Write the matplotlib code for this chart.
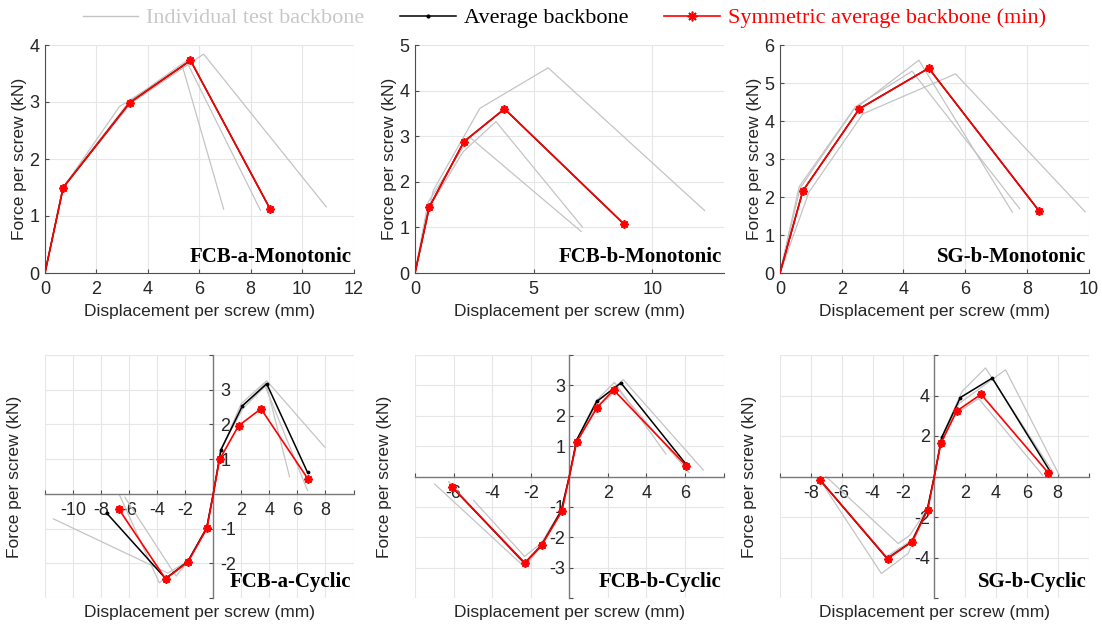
import matplotlib.pyplot as plt
from matplotlib.lines import Line2D

plt.rcParams['font.family'] = 'Liberation Sans'

# ---- FCB-a monotonic ----
fcba_mono_tests_x = [[0, 0.68, 2.9, 5.35, 6.95],
                     [0, 0.72, 3.3, 5.5, 8.38],
                     [0, 0.70, 3.35, 6.17, 10.94]]
fcba_mono_tests_y = [[0, 1.48, 2.92, 3.62, 1.12],
                     [0, 1.52, 3.02, 3.72, 1.10],
                     [0, 1.50, 2.98, 3.84, 1.16]]
fcba_mono_avg_x = [0, 0.71, 3.30, 5.66, 8.76]
fcba_mono_avg_y = [0, 1.50, 2.99, 3.73, 1.12]
fcba_mono_sym_x = [0, 0.71, 3.30, 5.66, 8.76]
fcba_mono_sym_y = [0, 1.50, 2.99, 3.73, 1.12]

# ---- FCB-b monotonic ----
fcbb_mono_tests_x = [[0, 0.77, 2.73, 5.61, 12.2],
                     [0, 0.55, 2.3, 7.0],
                     [0, 0.50, 2.03, 3.41, 7.05]]
fcbb_mono_tests_y = [[0, 1.81, 3.61, 4.50, 1.37],
                     [0, 1.55, 2.98, 0.91],
                     [0, 1.35, 2.66, 3.32, 1.01]]
fcbb_mono_avg_x = [0, 0.60, 2.06, 3.77, 8.79]
fcbb_mono_avg_y = [0, 1.445, 2.88, 3.60, 1.08]
fcbb_mono_sym_x = [0, 0.60, 2.06, 3.77, 8.79]
fcbb_mono_sym_y = [0, 1.445, 2.88, 3.60, 1.08]

# ---- SG-b monotonic ----
sgb_mono_tests_x = [[0, 0.65, 2.38, 4.50, 7.53],
                    [0, 0.62, 2.45, 4.28, 7.77],
                    [0, 0.94, 2.69, 5.69, 9.89]]
sgb_mono_tests_y = [[0, 2.23, 4.29, 5.60, 1.60],
                    [0, 2.27, 4.38, 5.31, 1.69],
                    [0, 2.13, 4.19, 5.24, 1.61]]
sgb_mono_avg_x = [0, 0.74, 2.57, 4.82, 8.40]
sgb_mono_avg_y = [0, 2.16, 4.32, 5.39, 1.63]
sgb_mono_sym_x = [0, 0.74, 2.57, 4.82, 8.40]
sgb_mono_sym_y = [0, 2.16, 4.32, 5.39, 1.63]

# ---- FCB-a cyclic ----
fcba_cyc_tests_x = [[-11.4, -3.25, -1.85, -0.45, 0, 0.50, 2.00, 3.81, 7.94],
                    [-6.7, -3.85, -1.90, -0.50, 0, 0.50, 2.05, 3.75, 5.44],
                    [-6.3, -2.65, -1.80, -0.45, 0, 0.55, 2.10, 3.70, 6.72]]
fcba_cyc_tests_y = [[-0.72, -2.28, -1.95, -1.00, 0, 1.20, 2.60, 3.26, 1.35],
                    [-0.02, -2.56, -2.00, -1.00, 0, 1.25, 2.50, 3.20, 0.49],
                    [-0.10, -2.37, -1.95, -0.95, 0, 1.30, 2.45, 3.10, 0.10]]
fcba_cyc_avg_x = [-7.61, -3.40, -1.82, -0.47, 0, 0.55, 2.08, 3.81, 6.72]
fcba_cyc_avg_y = [-0.55, -2.44, -1.95, -0.98, 0, 1.27, 2.54, 3.17, 0.62]
fcba_cyc_sym_x = [-6.75, -3.40, -1.80, -0.45, 0, 0.45, 1.80, 3.40, 6.75]
fcba_cyc_sym_y = [-0.43, -2.45, -1.96, -0.99, 0, 0.99, 1.96, 2.45, 0.43]

# ---- FCB-b cyclic ----
fcbb_cyc_tests_x = [[-6.98, -2.32, -1.45, -0.40, 0, 0.35, 1.40, 2.34, 5.01],
                    [-6.26, -2.32, -1.50, -0.42, 0, 0.38, 1.45, 2.80, 6.95],
                    [-4.97, -2.32, -1.45, -0.40, 0, 0.40, 1.40, 2.54, 6.22]]
fcbb_cyc_tests_y = [[-0.25, -2.98, -2.30, -1.15, 0, 1.15, 2.50, 3.10, 0.74],
                    [-0.17, -2.90, -2.25, -1.10, 0, 1.20, 2.45, 3.19, 0.21],
                    [-0.78, -2.63, -2.20, -1.10, 0, 1.10, 2.30, 2.86, 0.13]]
fcbb_cyc_avg_x = [-6.09, -2.32, -1.46, -0.42, 0, 0.38, 1.42, 2.68, 6.05]
fcbb_cyc_avg_y = [-0.34, -2.85, -2.28, -1.13, 0, 1.20, 2.47, 3.08, 0.41]
fcbb_cyc_sym_x = [-6.07, -2.30, -1.44, -0.38, 0, 0.38, 1.44, 2.30, 6.07]
fcbb_cyc_sym_y = [-0.35, -2.85, -2.27, -1.14, 0, 1.14, 2.27, 2.85, 0.35]

# ---- SG-b cyclic ----
sgb_cyc_tests_x = [[-7.02, -2.34, -1.58, -0.45, 0, 0.45, 1.80, 3.32, 7.70],
                   [-7.30, -3.43, -1.69, -0.50, 0, 0.50, 1.60, 4.62, 8.10],
                   [-7.50, -3.10, -1.45, -0.42, 0, 0.38, 1.40, 2.88, 7.02]]
sgb_cyc_tests_y = [[0.00, -3.31, -2.90, -1.60, 0, 1.90, 4.20, 5.36, 0.20],
                   [-0.30, -4.79, -3.80, -1.70, 0, 1.90, 3.60, 5.27, 0.07],
                   [-0.10, -3.95, -3.15, -1.55, 0, 1.60, 3.10, 3.85, 0.07]]
sgb_cyc_avg_x = [-7.41, -3.06, -1.47, -0.45, 0, 0.49, 1.69, 3.76, 7.52]
sgb_cyc_avg_y = [-0.17, -4.05, -3.23, -1.62, 0, 1.94, 3.90, 4.86, 0.24]
sgb_cyc_sym_x = [-7.40, -3.03, -1.45, -0.42, 0, 0.42, 1.45, 3.03, 7.40]
sgb_cyc_sym_y = [-0.17, -4.06, -3.23, -1.63, 0, 1.63, 3.23, 4.06, 0.17]

GRAY = '#c4c4c4'
GRID = '#e6e6e6'
AXC = '#4d4d4d'
TXT = '#262626'
# asterisk-style marker (four crossing strokes)
AST = (8, 2, 0)


def draw_curves(ax, tx, ty, ax_, ay_, sx, sy):
    for x, y in zip(tx, ty):
        ax.plot(x, y, color=GRAY, lw=0.9, zorder=2)
    nz = [i for i, v in enumerate(ax_) if v != 0]
    ax.plot(ax_, ay_, color='black', lw=1.1, marker='.', ms=3.5,
            markevery=nz, zorder=3)
    nz = [i for i, v in enumerate(sx) if v != 0]
    ax.plot(sx, sy, color='#ff0000', lw=1.2, marker=AST, ms=6, mew=1.3,
            markevery=nz, zorder=4)


def label_panel(ax, name):
    ax.text(0.993, 0.025, name, transform=ax.transAxes, ha='right',
            va='bottom', family='Liberation Serif', weight='bold',
            fontsize=15, color='black', zorder=6)


def mono_panel(rect, tx, ty, ax_, ay_, sx, sy, xlim, xticks, ylim, name):
    ax = fig.add_axes(rect)
    ax.set_axisbelow(True)
    draw_curves(ax, tx, ty, ax_, ay_, sx, sy)
    ax.set_xlim(xlim)
    ax.set_ylim(ylim)
    ax.set_xticks(xticks)
    ax.set_yticks(range(ylim[0], ylim[1] + 1))
    ax.grid(True, color=GRID, lw=0.8)
    for s in ['top', 'right']:
        ax.spines[s].set_visible(False)
    for s in ['left', 'bottom']:
        ax.spines[s].set_color(AXC)
        ax.spines[s].set_linewidth(0.8)
    ax.tick_params(direction='in', length=3, color=AXC, labelcolor=TXT,
                   labelsize=13)
    ax.tick_params(axis='x', pad=6)
    ax.tick_params(axis='y', pad=4)
    ax.set_xlabel('Displacement per screw (mm)', fontsize=12.5, color=TXT)
    ax.set_ylabel('Force per screw (kN)', fontsize=12.5, color=TXT)
    ax.xaxis.label.set_va('center')
    ax.yaxis.label.set_va('center')
    ax.xaxis.set_label_coords(0.5, -0.167)
    ax.yaxis.set_label_coords(-0.083, 0.5)
    label_panel(ax, name)
    return ax


def cyc_panel(rect, tx, ty, ax_, ay_, sx, sy, xlim, xstep, ylim, ystep,
              name, ylabels_right=False):
    ax = fig.add_axes(rect)
    ax.set_axisbelow(True)
    draw_curves(ax, tx, ty, ax_, ay_, sx, sy)
    ax.set_xlim(xlim)
    ax.set_ylim(ylim)
    xt = list(range(xlim[0], xlim[1] + 1, xstep))
    yt = list(range(ylim[0], ylim[1] + 1, ystep))
    ax.set_xticks(xt)
    ax.set_yticks(yt)
    ax.set_xticklabels(['' if v in (0, xlim[0], xlim[1]) else str(v) for v in xt])
    ax.set_yticklabels(['' if v in (0, ylim[0], ylim[1]) else str(v) for v in yt])
    ax.grid(True, color=GRID, lw=0.8)
    ax.spines['top'].set_visible(False)
    ax.spines['bottom'].set_position(('data', 0))
    if ylabels_right:
        ax.spines['left'].set_visible(False)
        ax.spines['right'].set_position(('data', 0))
        ax.yaxis.tick_right()
        yspine = ax.spines['right']
    else:
        ax.spines['right'].set_visible(False)
        ax.spines['left'].set_position(('data', 0))
        yspine = ax.spines['left']
    for s in [ax.spines['bottom'], yspine]:
        s.set_color('#7a7a7a')
        s.set_linewidth(1.0)
    ax.tick_params(direction='in', length=3, color=AXC, labelcolor=TXT,
                   labelsize=13)
    ax.tick_params(axis='x', pad=6)
    ax.tick_params(axis='y', pad=5 if ylabels_right else 3)
    ax.set_xlabel('Displacement per screw (mm)', fontsize=12.5, color=TXT)
    ax.set_ylabel('Force per screw (kN)', fontsize=12.5, color=TXT)
    ax.xaxis.label.set_va('center')
    ax.yaxis.label.set_va('center')
    ax.yaxis.set_label_position('left')
    ax.xaxis.set_label_coords(0.5, -0.06)
    ax.yaxis.set_label_coords(-0.073, 0.5)
    label_panel(ax, name)
    return ax


fig = plt.figure(figsize=(11.02, 6.25), dpi=100)

top_b, top_h = 0.5632, 0.3648
bot_b, bot_h = 0.0432, 0.3888
lefts = [0.0408, 0.3766, 0.7078]
width = 0.2800

mono_panel([lefts[0], top_b, width, top_h], fcba_mono_tests_x, fcba_mono_tests_y,
           fcba_mono_avg_x, fcba_mono_avg_y, fcba_mono_sym_x, fcba_mono_sym_y,
           (0, 12), range(0, 13, 2), (0, 4), 'FCB-a-Monotonic')
mono_panel([lefts[1], top_b, width, top_h], fcbb_mono_tests_x, fcbb_mono_tests_y,
           fcbb_mono_avg_x, fcbb_mono_avg_y, fcbb_mono_sym_x, fcbb_mono_sym_y,
           (0, 13), [0, 5, 10], (0, 5), 'FCB-b-Monotonic')
mono_panel([lefts[2], top_b, width, top_h], sgb_mono_tests_x, sgb_mono_tests_y,
           sgb_mono_avg_x, sgb_mono_avg_y, sgb_mono_sym_x, sgb_mono_sym_y,
           (0, 10), range(0, 11, 2), (0, 6), 'SG-b-Monotonic')

cyc_panel([lefts[0], bot_b, width, bot_h], fcba_cyc_tests_x, fcba_cyc_tests_y,
          fcba_cyc_avg_x, fcba_cyc_avg_y, fcba_cyc_sym_x, fcba_cyc_sym_y,
          (-12, 10), 2, (-3, 4), 1, 'FCB-a-Cyclic', ylabels_right=True)
cyc_panel([lefts[1], bot_b, width, bot_h], fcbb_cyc_tests_x, fcbb_cyc_tests_y,
          fcbb_cyc_avg_x, fcbb_cyc_avg_y, fcbb_cyc_sym_x, fcbb_cyc_sym_y,
          (-8, 8), 2, (-4, 4), 1, 'FCB-b-Cyclic')
cyc_panel([lefts[2], bot_b, width, bot_h], sgb_cyc_tests_x, sgb_cyc_tests_y,
          sgb_cyc_avg_x, sgb_cyc_avg_y, sgb_cyc_sym_x, sgb_cyc_sym_y,
          (-10, 10), 2, (-6, 6), 2, 'SG-b-Cyclic')

handles = [Line2D([], [], color=GRAY, lw=1.0),
           Line2D([], [], color='black', lw=1.1, marker='.', ms=4),
           Line2D([], [], color='#ff0000', lw=1.2, marker=AST, ms=7, mew=1.2)]
labels = ['Individual test backbone', 'Average backbone',
          'Symmetric average backbone (min)']
leg = fig.legend(handles, labels, loc='center', bbox_to_anchor=(0.512, 0.971),
                 ncol=3, frameon=False, handlelength=2.5, handletextpad=0.35,
                 columnspacing=1.62, prop={'family': 'Liberation Serif', 'size': 16})
for t, c in zip(leg.get_texts(), ['#c8c8c8', 'black', '#ff0000']):
    t.set_color(c)

fig.savefig('out.png', dpi=100)
